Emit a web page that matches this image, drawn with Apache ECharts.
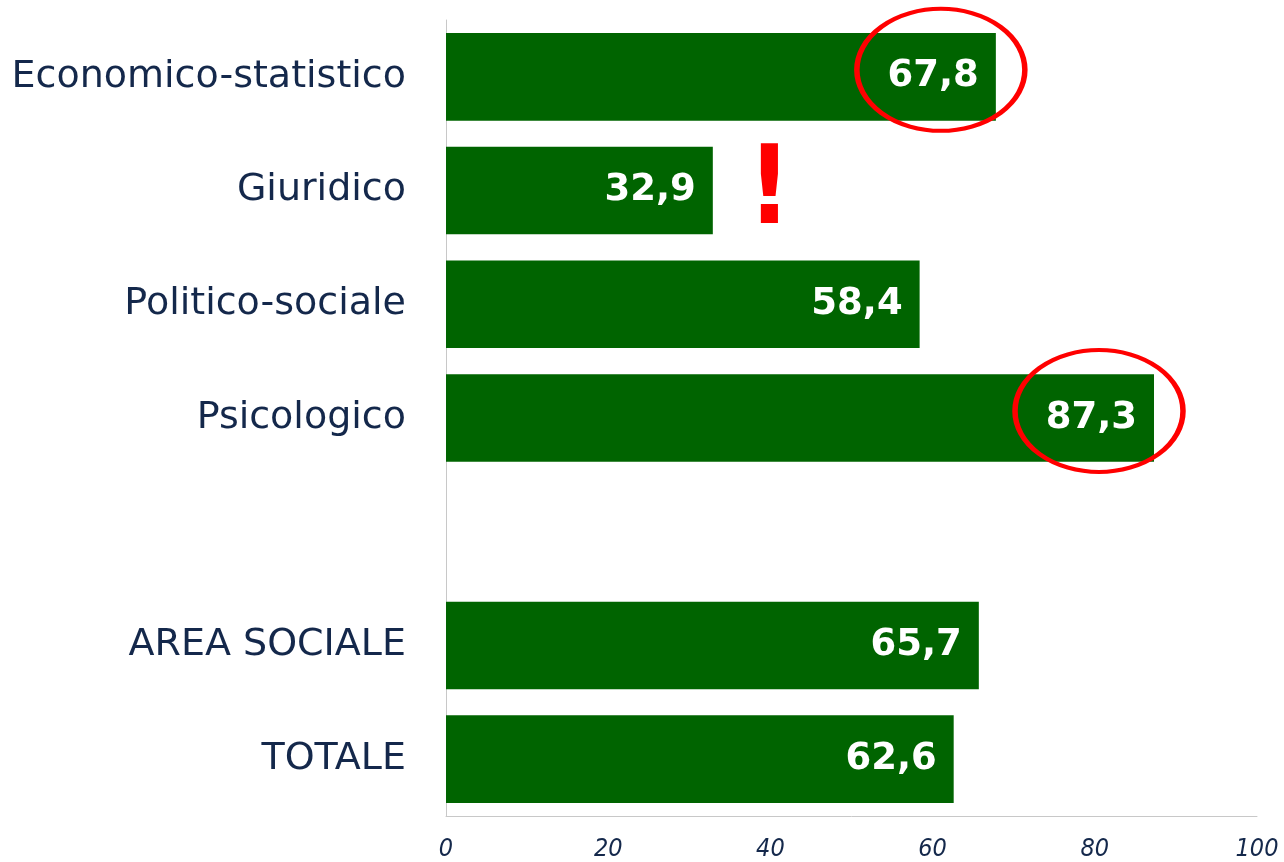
<!DOCTYPE html>
<html>
<head>
<meta charset="utf-8">
<script src="https://cdn.jsdelivr.net/npm/echarts@6/dist/echarts.min.js"></script>
<style>
  html, body { margin: 0; padding: 0; background: #fff; }
  #chart { width: 1284px; height: 862px; }
</style>
</head>
<body>
<div id="chart"></div>
<script>
// categorie (la riga vuota separa i corsi dai totali)
var categories = ['Economico-statistico', 'Giuridico', 'Politico-sociale', 'Psicologico', '', 'AREA SOCIALE', 'TOTALE'];
var values = [67.8, 32.9, 58.4, 87.3, null, 65.7, 62.6];
var xTicks = [0, 20, 40, 60, 80, 100];
// valori evidenziati con l'ellisse rossa
var highlighted = ['Economico-statistico', 'Psicologico'];

var navy = '#14284b';
var chart = echarts.init(document.getElementById('chart'));

var option = {
    animation: false,
    grid: { left: 446, right: 27, top: 20, bottom: 45 },
    xAxis: {
        type: 'value',
        min: xTicks[0],
        max: xTicks[xTicks.length - 1],
        interval: 20,
        splitLine: { show: false },
        axisLine: { show: true, lineStyle: { color: '#c8c8c8', width: 1 } },
        axisTick: { show: false },
        axisLabel: {
            color: navy,
            fontStyle: 'italic',
            fontFamily: 'DejaVu Sans Condensed',
            fontSize: 25,
            margin: 21
        }
    },
    yAxis: {
        type: 'category',
        inverse: true,
        data: categories,
        axisLine: { show: true, lineStyle: { color: '#c8c8c8', width: 1 } },
        axisTick: { show: false },
        axisLabel: {
            color: navy,
            fontFamily: 'DejaVu Sans',
            fontSize: 38,
            margin: 40
        }
    },
    series: [{
        type: 'bar',
        data: values,
        barCategoryGap: '23%',
        itemStyle: { color: '#006400' },
        label: {
            show: true,
            position: 'insideRight',
            distance: 17,
            color: '#fff',
            fontWeight: 'bold',
            fontFamily: 'DejaVu Sans',
            fontSize: 37,
            formatter: function (p) { return String(p.value).replace('.', ','); }
        }
    }]
};
chart.setOption(option);

// annotazioni: ellissi rosse e punto esclamativo
var graphics = [];
highlighted.forEach(function (name) {
    var i = categories.indexOf(name);
    var pt = chart.convertToPixel({ seriesIndex: 0 }, [values[i], i]);
    graphics.push({
        type: 'circle',
        x: pt[0] - 55,
        y: pt[1] - 7,
        scaleX: 84 / 61,
        scaleY: 1,
        shape: { cx: 0, cy: 0, r: 61 },
        style: { fill: 'none', stroke: '#ff0000', lineWidth: 4, strokeNoScale: true },
        z: 10
    });
});
var gi = categories.indexOf('Giuridico');
var gp = chart.convertToPixel({ seriesIndex: 0 }, [40, gi]);
graphics.push({
    type: 'text',
    x: gp[0] - 1,
    y: gp[1] + 4,
    style: {
        text: '!',
        fill: '#ff0000',
        font: 'bold 108px "DejaVu Sans Condensed"',
        textAlign: 'center',
        textVerticalAlign: 'middle'
    },
    z: 10
});
chart.setOption({ graphic: graphics });

window.onresize = function () {
    chart.resize();
};
</script>
</body>
</html>
